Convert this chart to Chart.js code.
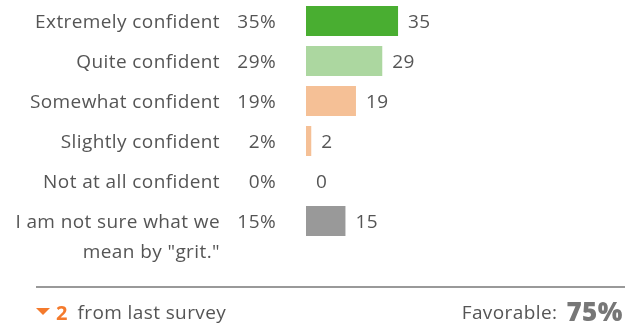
<!DOCTYPE html>
<html>
<head>
<meta charset="utf-8">
<script src="https://cdn.jsdelivr.net/npm/chart.js@4/dist/chart.umd.min.js"></script>
<style>
  html, body { margin: 0; padding: 0; background: #ffffff; }
  #wrap { width: 636px; height: 327px; position: relative; }
</style>
</head>
<body>
<div id="wrap"><canvas id="c" width="636" height="327"></canvas></div>
<script>
// Survey responses: "How confident are you in grit?"
const categories = [
  ['Extremely confident'],
  ['Quite confident'],
  ['Somewhat confident'],
  ['Slightly confident'],
  ['Not at all confident'],
  ['I am not sure what we', 'mean by "grit."']
];
const values = [35, 29, 19, 2, 0, 15];
const percentLabels = ['35%', '29%', '19%', '2%', '0%', '15%'];
const barColors = ['#49ae31', '#acd7a0', '#f5c096', '#f5c096', '#f5c096', '#999999'];

// Footer summary
const changeFromLast = -2;
const changeText = 'from last survey';
const favorableLabel = 'Favorable:';
const favorableValue = '75%';

const FONT = '"Open Sans", "Liberation Sans", sans-serif';
const TEXT = '#555555';

function setSpacing(ctx, px) {
  if ('letterSpacing' in ctx) ctx.letterSpacing = px + 'px';
}

const sidePlugin = {
  id: 'sideText',
  afterDatasetsDraw(chart) {
    const ctx = chart.ctx;
    const y = chart.scales.y;
    const meta = chart.getDatasetMeta(0);
    ctx.save();
    ctx.textBaseline = 'middle';
    ctx.font = '19px ' + FONT;
    setSpacing(ctx, 0.4);
    ctx.fillStyle = TEXT;
    categories.forEach((lines, i) => {
      const cy = y.getPixelForValue(i) + 1.5;
      ctx.textAlign = 'right';
      lines.forEach((ln, k) => ctx.fillText(ln, 220, cy + k * 30));
      ctx.fillText(percentLabels[i], 276, cy);
      ctx.textAlign = 'left';
      const bar = meta.data[i];
      ctx.fillText(String(values[i]), bar.x + 10, cy);
    });
    ctx.restore();
  },
  afterDraw(chart) {
    const ctx = chart.ctx;
    ctx.save();
    // divider
    ctx.strokeStyle = '#999999';
    ctx.lineWidth = 2;
    ctx.beginPath();
    ctx.moveTo(36, 287);
    ctx.lineTo(625, 287);
    ctx.stroke();

    const fy = 314;
    ctx.textBaseline = 'middle';
    // change indicator
    ctx.fillStyle = '#f47a2c';
    ctx.beginPath();
    if (changeFromLast < 0) {
      ctx.moveTo(36, 308); ctx.lineTo(50, 308); ctx.lineTo(43, 315);
    } else {
      ctx.moveTo(36, 315); ctx.lineTo(50, 315); ctx.lineTo(43, 308);
    }
    ctx.closePath();
    ctx.fill();
    ctx.font = 'bold 20px ' + FONT;
    ctx.textAlign = 'left';
    const changeStr = String(Math.abs(changeFromLast));
    ctx.fillText(changeStr, 56, fy);
    const w = ctx.measureText(changeStr).width;
    ctx.fillStyle = TEXT;
    ctx.font = '19px ' + FONT;
    setSpacing(ctx, 0.4);
    ctx.fillText(changeText, 56 + w + 10, fy);

    // favorable
    ctx.textAlign = 'right';
    ctx.font = '800 26px ' + FONT;
    setSpacing(ctx, 0.5);
    ctx.fillStyle = '#777777';
    ctx.fillText(favorableValue, 623, fy);
    const fw = ctx.measureText(favorableValue).width;
    ctx.font = '19px ' + FONT;
    setSpacing(ctx, 0.4);
    ctx.fillStyle = TEXT;
    ctx.fillText(favorableLabel, 623 - fw - 9, fy);
    ctx.restore();
  }
};

new Chart(document.getElementById('c'), {
  type: 'bar',
  data: {
    labels: categories.map(c => c.join(' ')),
    datasets: [{
      data: values,
      backgroundColor: barColors,
      borderWidth: 0,
      categoryPercentage: 1,
      barPercentage: 0.75
    }]
  },
  options: {
    indexAxis: 'y',
    responsive: false,
    animation: false,
    layout: { padding: { left: 306, top: 1, right: 67, bottom: 86 } },
    plugins: { legend: { display: false }, tooltip: { enabled: false } },
    scales: {
      x: { display: false, min: 0, max: 100 },
      y: { display: false }
    }
  },
  plugins: [sidePlugin]
});
</script>
</body>
</html>
